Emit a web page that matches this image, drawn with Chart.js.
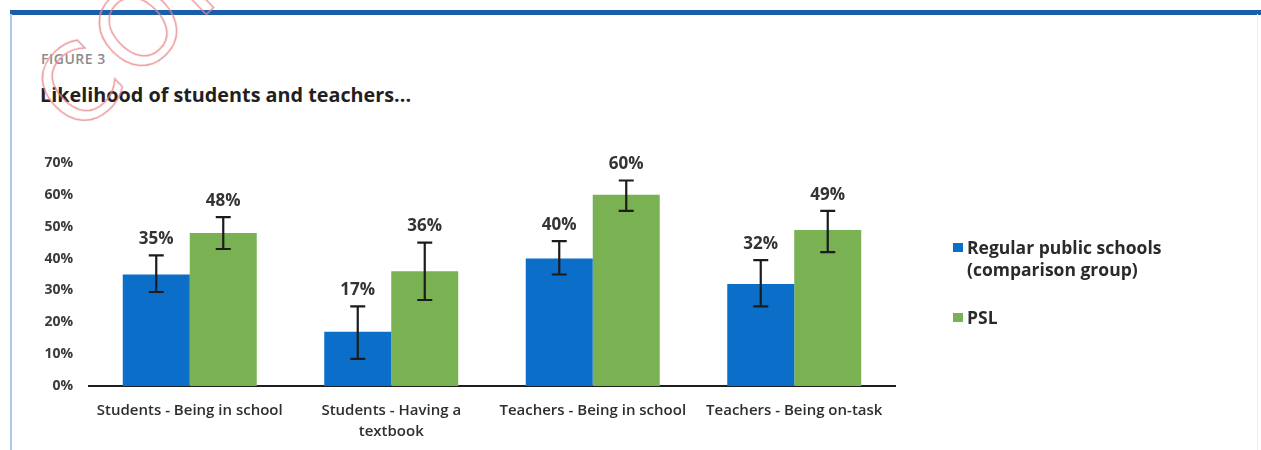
<!DOCTYPE html>
<html><head><meta charset="utf-8">
<script src="https://cdn.jsdelivr.net/npm/chart.js@4.4.0/dist/chart.umd.min.js"></script>
<style>
html,body{margin:0;padding:0;background:#fff;width:1261px;height:450px;overflow:hidden;font-family:"Open Sans",sans-serif;}
#wrap{position:relative;width:1261px;height:450px;overflow:hidden;}
#topline{position:absolute;left:10px;top:10px;width:1251px;height:5px;background:#1a5ea9;}
#leftline{position:absolute;left:10px;top:14px;width:2px;height:436px;background:#a9cbea;}
#rightline{position:absolute;left:1257px;top:14px;width:1px;height:436px;background:#e6eff8;}
#fig{position:absolute;left:41px;top:49px;font-size:14px;font-weight:600;color:#8b8b8b;letter-spacing:0.5px;line-height:20px;}
#title{position:absolute;left:40px;top:81px;font-size:19.8px;font-weight:700;color:#231f20;line-height:28px;}
#wm{position:absolute;left:17px;top:75px;font-family:"DejaVu Sans",sans-serif;font-size:105px;letter-spacing:6px;color:transparent;-webkit-text-stroke:1.5px #e9868a;transform-origin:0 0;transform:rotate(-44deg);white-space:nowrap;line-height:1;opacity:0.85;}
canvas{position:absolute;left:0;top:0;}
.sw{position:absolute;width:10px;height:9px;}
.lt{position:absolute;left:967px;font-size:17.5px;font-weight:700;color:#2a2a2a;line-height:22px;white-space:nowrap;}
</style></head>
<body><div id="wrap">
<div id="topline"></div><div id="leftline"></div><div id="rightline"></div>
<div id="fig">FIGURE 3</div>
<div id="title">Likelihood of students and teachers...</div>
<canvas id="c" width="1261" height="450"></canvas>
<div id="legend"></div>
<div id="wm">CONFIDENTIAL</div>
</div>
<script>
const categories = ["Students - Being in school", ["Students - Having a", "textbook"], "Teachers - Being in school", "Teachers - Being on-task"];
const seriesNames = [["Regular public schools", "(comparison group)"], ["PSL"]];
const regularValues = [35, 17, 40, 32];
const regularLow = [29.5, 8.5, 35, 25];
const regularHigh = [41, 25, 45.5, 39.5];
const pslValues = [48, 36, 60, 49];
const pslLow = [43, 27, 55, 42];
const pslHigh = [53, 45, 64.5, 55];
const yTicks = [0, 10, 20, 30, 40, 50, 60, 70];
const colors = ["#0b6fc9", "#79b153"];

// legend (HTML text)
const leg = document.getElementById('legend');
const legTops = [236, 306];
seriesNames.forEach((lines, i) => {
  const sw = document.createElement('div');
  sw.className = 'sw';
  sw.style.left = '953px';
  sw.style.top = (legTops[i] + 7) + 'px';
  sw.style.background = colors[i];
  leg.appendChild(sw);
  const t = document.createElement('div');
  t.className = 'lt';
  t.style.top = legTops[i] + 'px';
  t.innerHTML = lines.join('<br>');
  leg.appendChild(t);
});

const errorPlugin = {
  id: 'errbars',
  afterDatasetsDraw(chart) {
    const ctx = chart.ctx, y = chart.scales.y;
    chart.data.datasets.forEach((ds, i) => {
      const meta = chart.getDatasetMeta(i);
      meta.data.forEach((bar, j) => {
        const x = bar.x;
        const yl = y.getPixelForValue(ds.errLow[j]);
        const yh = y.getPixelForValue(ds.errHigh[j]);
        ctx.save();
        ctx.strokeStyle = '#1c1c1c';
        ctx.lineWidth = 2.2;
        ctx.beginPath();
        ctx.moveTo(x, yl); ctx.lineTo(x, yh);
        ctx.moveTo(x - 7.5, yh); ctx.lineTo(x + 7.5, yh);
        ctx.moveTo(x - 7.5, yl); ctx.lineTo(x + 7.5, yl);
        ctx.stroke();
        ctx.font = '700 17px "Open Sans"';
        ctx.fillStyle = '#333333';
        ctx.textAlign = 'center';
        ctx.textBaseline = 'middle';
        ctx.fillText(ds.data[j] + '%', x, yh - 16);
        ctx.restore();
      });
    });
  }
};

new Chart(document.getElementById('c'), {
  type: 'bar',
  data: {
    labels: categories,
    datasets: [
      { label: seriesNames[0].join(' '), data: regularValues, errLow: regularLow, errHigh: regularHigh, backgroundColor: colors[0], categoryPercentage: 0.665, barPercentage: 1.0 },
      { label: seriesNames[1].join(' '), data: pslValues, errLow: pslLow, errHigh: pslHigh, backgroundColor: colors[1], categoryPercentage: 0.665, barPercentage: 1.0 }
    ]
  },
  options: {
    responsive: false,
    animation: false,
    devicePixelRatio: 1,
    layout: { padding: { top: 163, right: 366, left: 0, bottom: 0 } },
    plugins: { legend: { display: false }, tooltip: { enabled: false } },
    scales: {
      x: {
        grid: { display: false, drawTicks: false },
        border: { display: true, color: '#1f1f1f', width: 2 },
        ticks: { color: '#2e2e2e', font: { family: 'Open Sans', size: 15, weight: '600', lineHeight: 1.4 }, padding: 14, maxRotation: 0, autoSkip: false },
        afterFit: s => { s.height = 64; }
      },
      y: {
        min: 0, max: 70,
        grid: { display: false, drawTicks: false },
        border: { display: false },
        afterBuildTicks: s => { s.ticks = yTicks.map(v => ({ value: v })); },
        ticks: { color: '#3a3a3a', font: { family: 'Open Sans', size: 14, weight: '700' }, padding: 16, callback: v => v + '%' },
        afterFit: s => { s.width = 89; }
      }
    }
  },
  plugins: [errorPlugin]
});
</script>
</body></html>
